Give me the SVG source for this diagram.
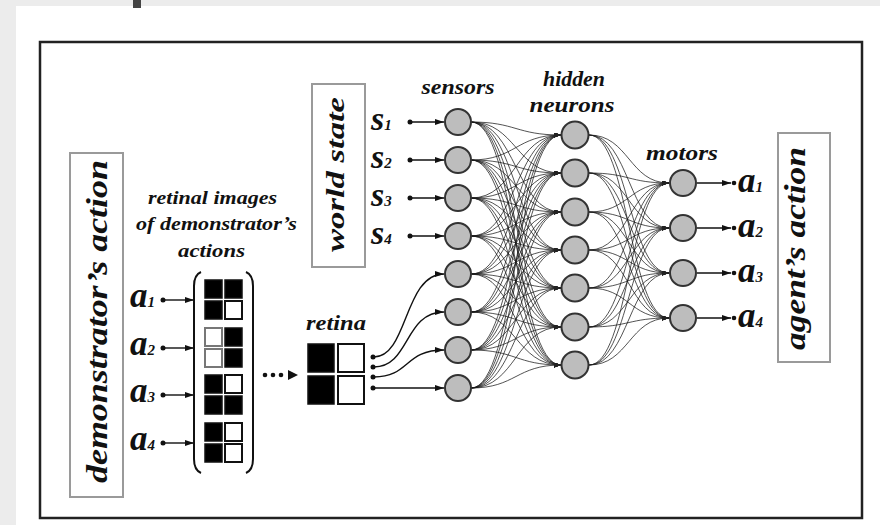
<svg xmlns="http://www.w3.org/2000/svg" width="880" height="525" viewBox="0 0 880 525">
<defs>
<style>
.t{font-family:"Liberation Serif","Times New Roman",serif;font-weight:bold;font-style:italic;fill:#111}
.c{fill:none;stroke:#1a1a1a;stroke-width:0.75;marker-end:url(#ah)}
.ln{fill:none;stroke:#111;stroke-width:1.4;marker-end:url(#ah2)}
.nd{fill:#bdbdbd;stroke:#333;stroke-width:2}
.box{fill:#fff;stroke:#9a9a9a;stroke-width:2}
.bk{fill:#000;stroke:#111;stroke-width:1.5}
.wh{fill:#fff;stroke:#111;stroke-width:2}
.wg{fill:#fff;stroke:#777;stroke-width:2}
.dot{fill:#111}
</style>
<marker id="ah" markerUnits="userSpaceOnUse" markerWidth="7" markerHeight="5" refX="7" refY="2.5" orient="auto"><path d="M0,0L7,2.5L0,5z" fill="#222"/></marker>
<marker id="ah2" markerUnits="userSpaceOnUse" markerWidth="9" markerHeight="6" refX="9" refY="3" orient="auto"><path d="M0,0L9,3L0,6z" fill="#111"/></marker>
</defs>
<rect x="0" y="0" width="880" height="525" fill="#ececec"/>
<rect x="16" y="6" width="864" height="519" fill="#fff"/>
<rect x="133" y="0" width="8" height="8" fill="#444"/>
<rect x="40" y="42" width="822" height="476" fill="none" stroke="#222" stroke-width="2.5"/>

<g id="connectors">
<path class="c" d="M471 122C516 122 516 135 561 135"/><path class="c" d="M471 122C516 122 516 173 561 173"/><path class="c" d="M471 122C516 122 516 212 561 212"/><path class="c" d="M471 122C516 122 516 250 561 250"/><path class="c" d="M471 122C516 122 516 288 561 288"/><path class="c" d="M471 122C516 122 516 327 561 327"/><path class="c" d="M471 122C516 122 516 365 561 365"/>
<path class="c" d="M471 160C516 160 516 135 561 135"/><path class="c" d="M471 160C516 160 516 173 561 173"/><path class="c" d="M471 160C516 160 516 212 561 212"/><path class="c" d="M471 160C516 160 516 250 561 250"/><path class="c" d="M471 160C516 160 516 288 561 288"/><path class="c" d="M471 160C516 160 516 327 561 327"/><path class="c" d="M471 160C516 160 516 365 561 365"/>
<path class="c" d="M471 198C516 198 516 135 561 135"/><path class="c" d="M471 198C516 198 516 173 561 173"/><path class="c" d="M471 198C516 198 516 212 561 212"/><path class="c" d="M471 198C516 198 516 250 561 250"/><path class="c" d="M471 198C516 198 516 288 561 288"/><path class="c" d="M471 198C516 198 516 327 561 327"/><path class="c" d="M471 198C516 198 516 365 561 365"/>
<path class="c" d="M471 236C516 236 516 135 561 135"/><path class="c" d="M471 236C516 236 516 173 561 173"/><path class="c" d="M471 236C516 236 516 212 561 212"/><path class="c" d="M471 236C516 236 516 250 561 250"/><path class="c" d="M471 236C516 236 516 288 561 288"/><path class="c" d="M471 236C516 236 516 327 561 327"/><path class="c" d="M471 236C516 236 516 365 561 365"/>
<path class="c" d="M471 274C516 274 516 135 561 135"/><path class="c" d="M471 274C516 274 516 173 561 173"/><path class="c" d="M471 274C516 274 516 212 561 212"/><path class="c" d="M471 274C516 274 516 250 561 250"/><path class="c" d="M471 274C516 274 516 288 561 288"/><path class="c" d="M471 274C516 274 516 327 561 327"/><path class="c" d="M471 274C516 274 516 365 561 365"/>
<path class="c" d="M471 312C516 312 516 135 561 135"/><path class="c" d="M471 312C516 312 516 173 561 173"/><path class="c" d="M471 312C516 312 516 212 561 212"/><path class="c" d="M471 312C516 312 516 250 561 250"/><path class="c" d="M471 312C516 312 516 288 561 288"/><path class="c" d="M471 312C516 312 516 327 561 327"/><path class="c" d="M471 312C516 312 516 365 561 365"/>
<path class="c" d="M471 350C516 350 516 135 561 135"/><path class="c" d="M471 350C516 350 516 173 561 173"/><path class="c" d="M471 350C516 350 516 212 561 212"/><path class="c" d="M471 350C516 350 516 250 561 250"/><path class="c" d="M471 350C516 350 516 288 561 288"/><path class="c" d="M471 350C516 350 516 327 561 327"/><path class="c" d="M471 350C516 350 516 365 561 365"/>
<path class="c" d="M471 388C516 388 516 135 561 135"/><path class="c" d="M471 388C516 388 516 173 561 173"/><path class="c" d="M471 388C516 388 516 212 561 212"/><path class="c" d="M471 388C516 388 516 250 561 250"/><path class="c" d="M471 388C516 388 516 288 561 288"/><path class="c" d="M471 388C516 388 516 327 561 327"/><path class="c" d="M471 388C516 388 516 365 561 365"/>

<path class="c" d="M589 135C629 135 629 183 669 183"/><path class="c" d="M589 135C629 135 629 228 669 228"/><path class="c" d="M589 135C629 135 629 273 669 273"/><path class="c" d="M589 135C629 135 629 318 669 318"/>
<path class="c" d="M589 173C629 173 629 183 669 183"/><path class="c" d="M589 173C629 173 629 228 669 228"/><path class="c" d="M589 173C629 173 629 273 669 273"/><path class="c" d="M589 173C629 173 629 318 669 318"/>
<path class="c" d="M589 212C629 212 629 183 669 183"/><path class="c" d="M589 212C629 212 629 228 669 228"/><path class="c" d="M589 212C629 212 629 273 669 273"/><path class="c" d="M589 212C629 212 629 318 669 318"/>
<path class="c" d="M589 250C629 250 629 183 669 183"/><path class="c" d="M589 250C629 250 629 228 669 228"/><path class="c" d="M589 250C629 250 629 273 669 273"/><path class="c" d="M589 250C629 250 629 318 669 318"/>
<path class="c" d="M589 288C629 288 629 183 669 183"/><path class="c" d="M589 288C629 288 629 228 669 228"/><path class="c" d="M589 288C629 288 629 273 669 273"/><path class="c" d="M589 288C629 288 629 318 669 318"/>
<path class="c" d="M589 327C629 327 629 183 669 183"/><path class="c" d="M589 327C629 327 629 228 669 228"/><path class="c" d="M589 327C629 327 629 273 669 273"/><path class="c" d="M589 327C629 327 629 318 669 318"/>
<path class="c" d="M589 365C629 365 629 183 669 183"/><path class="c" d="M589 365C629 365 629 228 669 228"/><path class="c" d="M589 365C629 365 629 273 669 273"/><path class="c" d="M589 365C629 365 629 318 669 318"/>

<path class="ln" d="M374 357C408 357 404 274 444 274"/>
<path class="ln" d="M374 367C410 367 404 312 444 312"/>
<path class="ln" d="M374 377C410 377 404 350 444 350"/>
<path class="ln" d="M374 388L444 388"/>
<circle class="dot" cx="373" cy="357" r="2.5"/><circle class="dot" cx="373" cy="367" r="2.5"/><circle class="dot" cx="373" cy="377" r="2.5"/><circle class="dot" cx="373" cy="388" r="2.5"/>

<path class="ln" d="M410 122L444 122"/><path class="ln" d="M410 160L444 160"/><path class="ln" d="M410 198L444 198"/><path class="ln" d="M410 236L444 236"/>
<circle class="dot" cx="410" cy="122" r="2.5"/><circle class="dot" cx="410" cy="160" r="2.5"/><circle class="dot" cx="410" cy="198" r="2.5"/><circle class="dot" cx="410" cy="236" r="2.5"/>

<path class="ln" d="M163 300L194 300"/><path class="ln" d="M163 348L194 348"/><path class="ln" d="M163 395L194 395"/><path class="ln" d="M163 443L194 443"/>
<circle class="dot" cx="163" cy="300" r="2.5"/><circle class="dot" cx="163" cy="348" r="2.5"/><circle class="dot" cx="163" cy="395" r="2.5"/><circle class="dot" cx="163" cy="443" r="2.5"/>

<path class="ln" d="M697 183L731 183"/><path class="ln" d="M697 228L731 228"/><path class="ln" d="M697 273L731 273"/><path class="ln" d="M697 318L731 318"/>
<circle class="dot" cx="734" cy="183" r="2.3"/><circle class="dot" cx="734" cy="228" r="2.3"/><circle class="dot" cx="734" cy="273" r="2.3"/><circle class="dot" cx="734" cy="318" r="2.3"/>

<circle class="dot" cx="265" cy="375" r="2.3"/><circle class="dot" cx="273" cy="375" r="2.3"/><circle class="dot" cx="281" cy="375" r="2.3"/>
<path d="M288 370L298 375L288 380z" fill="#111"/>
</g>

<g id="demonstrator-action">
<rect class="box" x="70" y="153" width="53" height="344"/>
<text class="t" font-size="30" text-anchor="middle" textLength="323" lengthAdjust="spacingAndGlyphs" transform="translate(107,321.5) rotate(-90)">demonstrator’s action</text>
</g>

<g id="retinal-images-label">
<text class="t" font-size="19" text-anchor="middle" x="212.5" y="204" textLength="129" lengthAdjust="spacingAndGlyphs">retinal images</text>
<text class="t" font-size="19" text-anchor="middle" x="216.5" y="230" textLength="161" lengthAdjust="spacingAndGlyphs">of demonstrator’s</text>
<text class="t" font-size="19" text-anchor="middle" x="211.5" y="257" textLength="67" lengthAdjust="spacingAndGlyphs">actions</text>
</g>

<g id="demo-labels">
<text class="t" x="130" y="307" font-size="35">a<tspan font-size="15">1</tspan></text>
<text class="t" x="130" y="355" font-size="35">a<tspan font-size="15">2</tspan></text>
<text class="t" x="130" y="402" font-size="35">a<tspan font-size="15">3</tspan></text>
<text class="t" x="130" y="450" font-size="35">a<tspan font-size="15">4</tspan></text>
</g>

<g id="matrix">
<path d="M201 272Q194 275 194 286L194 459Q194 470 201 473" fill="none" stroke="#111" stroke-width="2"/>
<path d="M246 272Q253 275 253 286L253 459Q253 470 246 473" fill="none" stroke="#111" stroke-width="2"/>
<rect class="bk" x="205" y="280" width="17" height="18"/><rect class="bk" x="225" y="280" width="17" height="18"/>
<rect class="bk" x="205" y="301" width="17" height="18"/><rect class="wh" x="225" y="301" width="17" height="18"/>
<rect class="wg" x="205" y="328" width="17" height="18"/><rect class="bk" x="225" y="328" width="17" height="18"/>
<rect class="wg" x="205" y="349" width="17" height="18"/><rect class="bk" x="225" y="349" width="17" height="18"/>
<rect class="bk" x="205" y="375" width="17" height="18"/><rect class="wh" x="225" y="375" width="17" height="18"/>
<rect class="bk" x="205" y="396" width="17" height="18"/><rect class="bk" x="225" y="396" width="17" height="18"/>
<rect class="bk" x="205" y="423" width="17" height="18"/><rect class="wh" x="225" y="423" width="17" height="18"/>
<rect class="bk" x="205" y="444" width="17" height="18"/><rect class="wh" x="225" y="444" width="17" height="18"/>
</g>

<g id="retina">
<text class="t" font-size="22" text-anchor="middle" x="336" y="330" textLength="60" lengthAdjust="spacingAndGlyphs">retina</text>
<rect class="bk" x="308" y="344" width="26" height="28"/><rect class="wh" x="338" y="344" width="26" height="28"/>
<rect class="bk" x="308" y="376" width="26" height="28"/><rect class="wh" x="338" y="376" width="26" height="28"/>
</g>

<g id="world-state">
<rect class="box" x="312" y="84" width="53" height="183"/>
<text class="t" font-size="26" text-anchor="middle" textLength="155" lengthAdjust="spacingAndGlyphs" transform="translate(344,174.5) rotate(-90)">world state</text>
</g>

<g id="state-labels">
<text class="t" x="371" y="130" font-size="34">s<tspan font-size="15">1</tspan></text>
<text class="t" x="371" y="168" font-size="34">s<tspan font-size="15">2</tspan></text>
<text class="t" x="371" y="206" font-size="34">s<tspan font-size="15">3</tspan></text>
<text class="t" x="371" y="244" font-size="34">s<tspan font-size="15">4</tspan></text>
</g>

<g id="sensors">
<text class="t" font-size="22" text-anchor="middle" x="458" y="94" textLength="73" lengthAdjust="spacingAndGlyphs">sensors</text>
<circle id="sensor1" class="nd" cx="458" cy="122" r="13"/>
<circle id="sensor2" class="nd" cx="458" cy="160" r="13"/>
<circle id="sensor3" class="nd" cx="458" cy="198" r="13"/>
<circle id="sensor4" class="nd" cx="458" cy="236" r="13"/>
<circle id="sensor5" class="nd" cx="458" cy="274" r="13"/>
<circle id="sensor6" class="nd" cx="458" cy="312" r="13"/>
<circle id="sensor7" class="nd" cx="458" cy="350" r="13"/>
<circle id="sensor8" class="nd" cx="458" cy="388" r="13"/>
</g>

<g id="hidden">
<text class="t" font-size="22" text-anchor="middle" x="574" y="86" textLength="62" lengthAdjust="spacingAndGlyphs">hidden</text>
<text class="t" font-size="22" text-anchor="middle" x="572" y="112" textLength="85" lengthAdjust="spacingAndGlyphs">neurons</text>
<circle id="hidden1" class="nd" cx="575" cy="135" r="13.5"/>
<circle id="hidden2" class="nd" cx="575" cy="173" r="13.5"/>
<circle id="hidden3" class="nd" cx="575" cy="212" r="13.5"/>
<circle id="hidden4" class="nd" cx="575" cy="250" r="13.5"/>
<circle id="hidden5" class="nd" cx="575" cy="288" r="13.5"/>
<circle id="hidden6" class="nd" cx="575" cy="327" r="13.5"/>
<circle id="hidden7" class="nd" cx="575" cy="365" r="13.5"/>
</g>

<g id="motors">
<text class="t" font-size="20" text-anchor="middle" x="682" y="160" textLength="72" lengthAdjust="spacingAndGlyphs">motors</text>
<circle id="motor1" class="nd" cx="683" cy="183" r="13"/>
<circle id="motor2" class="nd" cx="683" cy="228" r="13"/>
<circle id="motor3" class="nd" cx="683" cy="273" r="13"/>
<circle id="motor4" class="nd" cx="683" cy="318" r="13"/>
</g>

<g id="agent-labels">
<text class="t" x="738" y="192" font-size="35">a<tspan font-size="15">1</tspan></text>
<text class="t" x="738" y="237" font-size="35">a<tspan font-size="15">2</tspan></text>
<text class="t" x="738" y="282" font-size="35">a<tspan font-size="15">3</tspan></text>
<text class="t" x="738" y="327" font-size="35">a<tspan font-size="15">4</tspan></text>
</g>

<g id="agent-action">
<rect class="box" x="778" y="133" width="52" height="229"/>
<text class="t" font-size="30" text-anchor="middle" textLength="203" lengthAdjust="spacingAndGlyphs" transform="translate(805,248.5) rotate(-90)">agent’s action</text>
</g>
</svg>
